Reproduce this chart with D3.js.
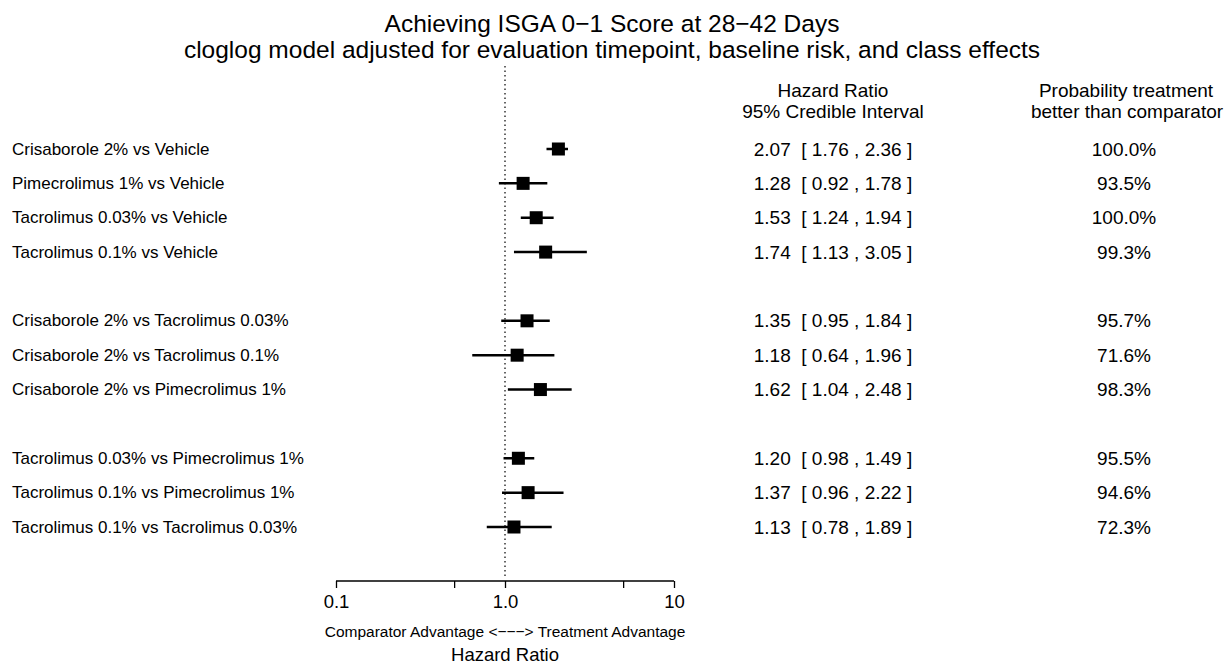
<!DOCTYPE html>
<html>
<head>
<meta charset="utf-8">
<script src="https://cdn.jsdelivr.net/npm/d3@7"></script>
<style>
  body { margin: 0; background: #fff; }
  text { font-family: "Liberation Sans", Arial, sans-serif; fill: #000; }
</style>
</head>
<body>
<div class="canvas"></div>
<script>
// data
const labels = [
  'Crisaborole 2% vs Vehicle',
  'Pimecrolimus 1% vs Vehicle',
  'Tacrolimus 0.03% vs Vehicle',
  'Tacrolimus 0.1% vs Vehicle',
  'Crisaborole 2% vs Tacrolimus 0.03%',
  'Crisaborole 2% vs Tacrolimus 0.1%',
  'Crisaborole 2% vs Pimecrolimus 1%',
  'Tacrolimus 0.03% vs Pimecrolimus 1%',
  'Tacrolimus 0.1% vs Pimecrolimus 1%',
  'Tacrolimus 0.1% vs Tacrolimus 0.03%'
];
const rowSlots = [0, 1, 2, 3, 5, 6, 7, 9, 10, 11];
const hr    = [2.07, 1.28, 1.53, 1.74, 1.35, 1.18, 1.62, 1.20, 1.37, 1.13];
const lower = [1.76, 0.92, 1.24, 1.13, 0.95, 0.64, 1.04, 0.98, 0.96, 0.78];
const upper = [2.36, 1.78, 1.94, 3.05, 1.84, 1.96, 2.48, 1.49, 2.22, 1.89];
const prob  = ['100.0%', '93.5%', '100.0%', '99.3%', '95.7%', '71.6%', '98.3%', '95.5%', '94.6%', '72.3%'];
const tickValues = [0.1, 0.5, 1, 5, 10];
const tickLabels = {0.1: '0.1', 1: '1.0', 10: '10'};

const data = labels.map((d, i) => ({
  label: d, slot: rowSlots[i], hr: hr[i], lo: lower[i], hi: upper[i], prob: prob[i]
}));

const width = 1224, height = 667;
const svg = d3.select('.canvas')
  .append('svg')
    .attr('width', width)
    .attr('height', height);

const x = d3.scaleLog()
  .domain([0.1, 10])
  .range([336, 674]);

const y = d3.scaleLinear()
  .domain([0, 11])
  .range([149, 527]);

// titles (baseline positioned)
svg.append('text')
  .attr('x', width / 2).attr('y', 32)
  .attr('text-anchor', 'middle')
  .style('font-size', '24.5px')
  .text('Achieving ISGA 0\u22121 Score at 28\u221242 Days');
svg.append('text')
  .attr('x', width / 2).attr('y', 58)
  .attr('text-anchor', 'middle')
  .style('font-size', '24.5px')
  .text('cloglog model adjusted for evaluation timepoint, baseline risk, and class effects');

// column headers
const headers = [
  {x: 833, y: 97, t: 'Hazard Ratio'},
  {x: 833, y: 118, t: '95% Credible Interval'},
  {x: 1126, y: 97, t: 'Probability treatment'},
  {x: 1127, y: 118, t: 'better than comparator'}
];
svg.selectAll('.hdr')
  .data(headers)
  .enter()
  .append('text')
    .attr('class', 'hdr')
    .attr('x', d => d.x).attr('y', d => d.y)
    .attr('text-anchor', 'middle')
    .style('font-size', '19px')
    .text(d => d.t);

// reference line at 1
svg.append('line')
  .attr('x1', x(1)).attr('x2', x(1))
  .attr('y1', 66).attr('y2', 577)
  .attr('stroke', '#000')
  .attr('stroke-width', 1.2)
  .attr('stroke-dasharray', '1.5,3');

const rows = svg.selectAll('.row')
  .data(data)
  .enter()
  .append('g')
    .attr('class', 'row')
    .attr('transform', d => `translate(0, ${y(d.slot)})`);

rows.append('text')
  .attr('x', 12).attr('dominant-baseline', 'central')
  .style('font-size', '17px')
  .text(d => d.label);

rows.append('line')
  .attr('x1', d => x(d.lo)).attr('x2', d => x(d.hi))
  .attr('stroke', '#000').attr('stroke-width', 2.5);

const sq = 13;
rows.append('rect')
  .attr('x', d => x(d.hr) - sq / 2).attr('y', -sq / 2)
  .attr('width', sq).attr('height', sq)
  .attr('fill', '#000');

rows.append('text')
  .attr('x', 833).attr('text-anchor', 'middle').attr('dominant-baseline', 'central')
  .style('font-size', '19px')
  .style('white-space', 'pre')
  .attr('xml:space', 'preserve')
  .text(d => `${d.hr.toFixed(2)}  [ ${d.lo.toFixed(2)} , ${d.hi.toFixed(2)} ]`);

rows.append('text')
  .attr('x', 1124).attr('text-anchor', 'middle').attr('dominant-baseline', 'central')
  .style('font-size', '19px')
  .text(d => d.prob);

// axis
const xAxis = d3.axisBottom(x)
  .tickValues(tickValues)
  .tickSize(7)
  .tickSizeOuter(0)
  .tickFormat(d => tickLabels[d] || '');

const xAxisGroup = svg.append('g')
  .attr('transform', 'translate(0, 581)')
  .call(xAxis);

xAxisGroup.select('.domain').attr('stroke', '#000').attr('stroke-width', 1.3)
  .attr('d', `M${x(0.1)},0H${x(10)}`);
xAxisGroup.selectAll('.tick line').attr('stroke', '#000').attr('stroke-width', 1.3);
xAxisGroup.selectAll('.tick text')
  .attr('y', 27).attr('dy', 0)
  .style('font-size', '18.5px')
  .style('font-family', '"Liberation Sans", Arial, sans-serif');

svg.append('text')
  .attr('x', x(1)).attr('y', 637)
  .attr('text-anchor', 'middle')
  .style('font-size', '15.5px')
  .text('Comparator Advantage <\u2212\u2212\u2212> Treatment Advantage');

svg.append('text')
  .attr('x', x(1)).attr('y', 661)
  .attr('text-anchor', 'middle')
  .style('font-size', '18.5px')
  .text('Hazard Ratio');
</script>
</body>
</html>
